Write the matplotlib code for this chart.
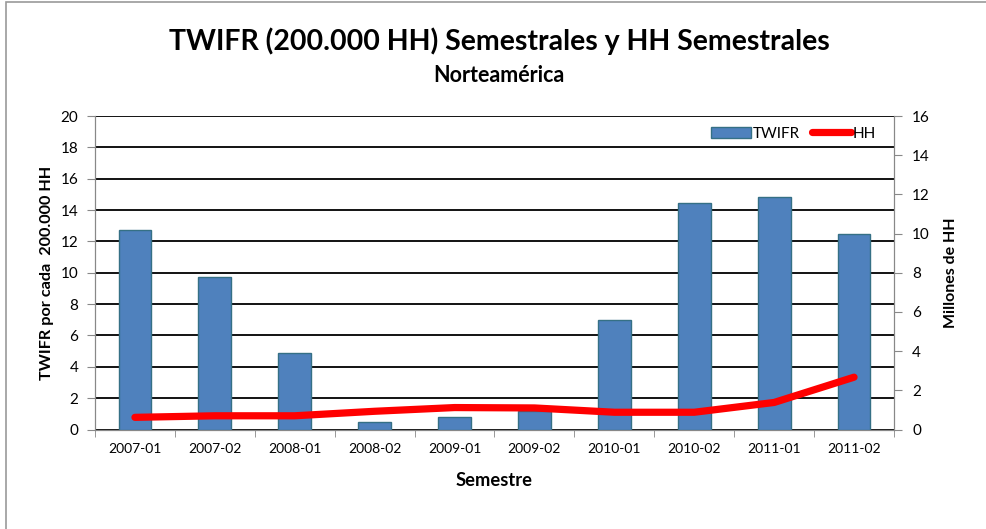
import matplotlib
matplotlib.use("Agg")
import matplotlib.pyplot as plt
from matplotlib.patches import Rectangle, Patch
from matplotlib.lines import Line2D
import numpy as np

plt.rcParams['font.family'] = ['Lato', 'DejaVu Sans']

categories = ["2007-01", "2007-02", "2008-01", "2008-02", "2009-01",
              "2009-02", "2010-01", "2010-02", "2011-01", "2011-02"]
twifr = [12.7, 9.7, 4.85, 0.45, 0.77, 1.2, 7.0, 14.45, 14.85, 12.45]
hh = [0.62, 0.7, 0.7, 0.93, 1.12, 1.1, 0.88, 0.88, 1.38, 2.67]

title = "TWIFR (200.000 HH) Semestrales y HH Semestrales"
subtitle = "Norteamérica"

W, H = 986, 529
fig = plt.figure(figsize=(W/100, H/100), dpi=100)
fig.patch.set_facecolor('white')

# outer chart border
fig.add_artist(Rectangle((6/W, -0.1), 1.2, (H-2)/H + 0.1, transform=fig.transFigure,
                         fill=False, edgecolor='#9a9a9a', linewidth=1.2))

ax = fig.add_axes([95/W, 1 - 429.5/H, (894-95)/W, (429.5-116)/H])
x = np.arange(len(categories))
ax.bar(x, twifr, width=0.41, color='#4F81BD', edgecolor='#357085', linewidth=1.0, zorder=3)
ax.set_xlim(-0.5, len(categories) - 0.5)
ax.set_ylim(0, 20)
ax.set_yticks(np.arange(0, 21, 2))
ax.yaxis.grid(True, color='black', linewidth=1.3, zorder=0)
ax.set_axisbelow(True)
ax.set_xticks(x)
ax.set_xticklabels(categories, fontsize=10)
ax.set_xticks(np.arange(-0.5, len(categories)), minor=True)
ax.tick_params(axis='x', which='major', length=0, pad=10)
ax.tick_params(axis='x', which='minor', length=5, color='#888888', direction='out')
ax.tick_params(axis='y', length=6, color='#888888', labelsize=11, pad=6)
for side in ['left', 'bottom', 'right']:
    ax.spines[side].set_color('#888888')
ax.spines['top'].set_visible(False)
ax.set_ylabel("TWIFR por cada  200.000 HH", fontsize=11.7, fontweight='bold', labelpad=5)
ax.set_xlabel("Semestre", fontsize=13.2, fontweight='bold', labelpad=12)

ax2 = ax.twinx()
ax2.plot(x, hh, color='#FF0000', linewidth=5.2, solid_capstyle='round',
         solid_joinstyle='round', zorder=4)
ax2.set_ylim(0, 16)
ax2.set_yticks(np.arange(0, 17, 2))
ax2.tick_params(axis='y', length=6, color='#888888', labelsize=11, pad=7)
for side in ['left', 'bottom', 'right']:
    ax2.spines[side].set_color('#888888')
ax2.spines['top'].set_visible(False)
ax2.set_ylabel("Millones de HH", fontsize=11.5, fontweight='bold', labelpad=10)

handles = [Patch(facecolor='#4F81BD', edgecolor='#357085'),
           Line2D([0], [0], color='#FF0000', linewidth=5.2, solid_capstyle='round')]
ax2.legend(handles, ["TWIFR", "HH"], loc='upper right', frameon=False, fontsize=11,
           ncol=2, handlelength=2.6, handletextpad=0.1, columnspacing=0.8,
           bbox_to_anchor=(0.995, 1.01))

fig.text(499/W, 1 - 41/H, title, ha='center', va='center', fontsize=20.5, fontweight='bold')
fig.text(499/W, 1 - 75/H, subtitle, ha='center', va='center', fontsize=15.5, fontweight='bold')

fig.savefig("out.png", dpi=100, facecolor='white')
